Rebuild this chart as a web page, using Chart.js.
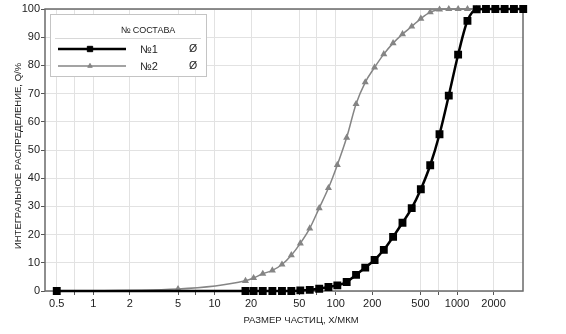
<!DOCTYPE html>
<html>
<head>
<meta charset="utf-8">
<script src="https://cdn.jsdelivr.net/npm/chart.js@4"></script>
<style>
  html, body { margin: 0; padding: 0; background: #fff; }
</style>
</head>
<body>
<canvas id="myChart" width="566" height="334"></canvas>
<script>
// размеры частиц, мкм (сетка классов прибора)
const sizes = [0.5, 5, 18, 21, 25, 30, 36, 43, 51, 61, 73, 87, 103, 123, 147, 175, 209,
  249, 297, 355, 423, 503, 601, 717, 855, 1021, 1219, 1453, 1733, 2069, 2469, 2947, 3515];
// интегральное распределение Q, %
const q1 = [0, null, 0, 0, 0, 0, 0, 0, 0.2, 0.4, 0.8, 1.4, 2.0, 3.2, 5.7, 8.3, 11.0,
  14.6, 19.2, 24.2, 29.4, 36.1, 44.6, 55.6, 69.3, 83.8, 95.8, 99.9, 100, 100, 100, 100, 100];
const q2 = [0, 0.7, 3.6, 4.6, 6.1, 7.3, 9.4, 12.7, 16.9, 22.2, 29.4, 36.5, 44.7, 54.4, 66.3, 74.0, 79.3,
  84.0, 87.9, 91.1, 93.8, 96.6, 98.9, 99.8, 100, 100, 100, 100, 100, 100, 100, 100, 100];

const seriesNames = ['№1', '№2'];
const legendTitle = '№ СОСТАВА';
const xTitle = 'РАЗМЕР ЧАСТИЦ, X/МКМ';
const yTitle = 'ИНТЕГРАЛЬНОЕ РАСПРЕДЕЛЕНИЕ, Q/%';
const xTicks = [0.5, 0.7, 1, 2, 5, 7, 10, 20, 50, 70, 100, 200, 500, 700, 1000, 2000];
const xHidden = [0.7, 7, 70, 700];

const FONT = '"Liberation Sans", Arial, sans-serif';
Chart.defaults.font.family = FONT;
Chart.defaults.color = '#222';

const toPoints = (ys) => sizes.map((x, i) => ({ x: x, y: ys[i] }));

// рамка, подписи осей и легенда рисуются вручную
const frame = {
  id: 'frame',
  beforeDatasetsDraw(chart) {
    const { ctx, chartArea: a } = chart;
    ctx.save();
    ctx.strokeStyle = '#6a6a6a';
    ctx.lineWidth = 1.5;
    ctx.strokeRect(a.left, a.top, a.right - a.left, a.bottom - a.top);

    ctx.fillStyle = '#222';
    ctx.font = '9.5px ' + FONT;
    ctx.textAlign = 'center';
    ctx.textBaseline = 'middle';
    ctx.fillText(xTitle, 301, 320);
    ctx.translate(18, 156);
    ctx.rotate(-Math.PI / 2);
    ctx.fillText(yTitle, 0, 0);
    ctx.restore();
  },
  afterDraw(chart) {
    const { ctx, chartArea: a } = chart;
    const bx = a.left + 5, by = a.top + 5, bw = 156, bh = 62;
    ctx.save();
    ctx.fillStyle = '#fff';
    ctx.fillRect(bx, by, bw, bh);
    ctx.strokeStyle = '#c4c4c4';
    ctx.lineWidth = 1;
    ctx.strokeRect(bx + 0.5, by + 0.5, bw, bh);

    ctx.fillStyle = '#222';
    ctx.font = '9px ' + FONT;
    ctx.textAlign = 'center';
    ctx.textBaseline = 'middle';
    ctx.fillText(legendTitle, bx + 98, by + 17);

    ctx.strokeStyle = '#d8d8d8';
    ctx.beginPath();
    ctx.moveTo(bx + 5, by + 24.5);
    ctx.lineTo(bx + bw - 5, by + 24.5);
    ctx.stroke();

    chart.data.datasets.forEach((ds, i) => {
      const y = by + 35 + i * 17;
      ctx.strokeStyle = ds.borderColor;
      ctx.lineWidth = ds.borderWidth;
      ctx.beginPath();
      ctx.moveTo(bx + 8, y);
      ctx.lineTo(bx + 76, y);
      ctx.stroke();
      ctx.fillStyle = ds.pointBackgroundColor;
      ctx.strokeStyle = ds.pointBorderColor;
      ctx.lineWidth = 1;
      Chart.helpers.drawPoint(ctx, {
        pointStyle: ds.pointStyle, radius: ds.pointRadius, rotation: 0, borderWidth: 1
      }, bx + 40, y);

      ctx.fillStyle = '#222';
      ctx.font = '11px ' + FONT;
      ctx.textAlign = 'left';
      ctx.fillText(ds.label, bx + 90, y + 0.5);
      ctx.font = '10.5px ' + FONT;
      ctx.textAlign = 'center';
      ctx.fillText('Ø', bx + 143, y);
    });
    ctx.restore();
  }
};

new Chart(document.getElementById('myChart'), {
  type: 'line',
  data: {
    datasets: [
      {
        label: seriesNames[0],
        data: toPoints(q1),
        borderColor: '#000',
        borderWidth: 2.5,
        pointStyle: 'rect',
        pointRadius: 3.8,
        pointBackgroundColor: '#000',
        pointBorderColor: '#000',
        cubicInterpolationMode: 'monotone',
        spanGaps: true,
        clip: false,
        order: 1
      },
      {
        label: seriesNames[1],
        data: toPoints(q2),
        borderColor: '#858585',
        borderWidth: 1.5,
        pointStyle: 'triangle',
        pointRadius: 2.6,
        pointBackgroundColor: '#858585',
        pointBorderColor: '#858585',
        cubicInterpolationMode: 'monotone',
        clip: false,
        order: 2
      }
    ]
  },
  options: {
    responsive: false,
    animation: false,
    layout: { padding: { top: 9, right: 43, left: 8, bottom: 0 } },
    plugins: {
      legend: { display: false },
      tooltip: { enabled: false }
    },
    scales: {
      x: {
        type: 'logarithmic',
        min: 0.4,
        max: 3500,
        afterBuildTicks: (s) => { s.ticks = xTicks.map(v => ({ value: v })); },
        afterFit: (s) => { s.height = 43; },
        border: { display: false },
        grid: { color: '#e2e2e2', tickColor: '#555', tickLength: 4, lineWidth: 1 },
        ticks: {
          autoSkip: false,
          maxRotation: 0,
          padding: 2,
          font: { size: 11 },
          callback: (v) => xHidden.includes(v) ? '' : String(v)
        }
      },
      y: {
        min: 0,
        max: 100,
        afterFit: (s) => { s.width = 37; },
        border: { display: false },
        grid: { color: '#e2e2e2', tickColor: '#555', tickLength: 4, lineWidth: 1 },
        ticks: {
          stepSize: 5,
          padding: 1,
          font: { size: 11 },
          callback: (v) => v % 10 === 0 ? String(v) : ''
        }
      }
    }
  },
  plugins: [frame]
});
</script>
</body>
</html>
